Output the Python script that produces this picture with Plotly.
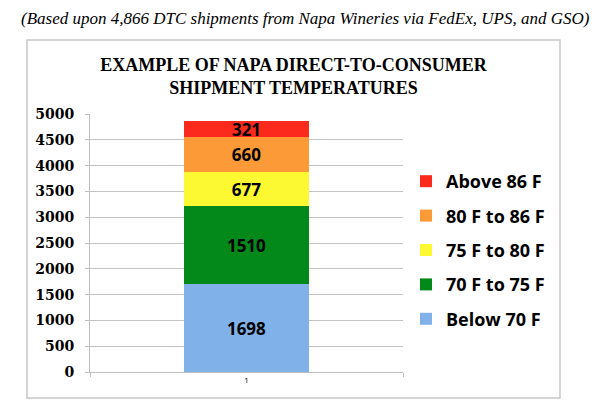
import plotly.graph_objects as go

categories = ["1"]
series_names = ["Below 70 F", "70 F to 75 F", "75 F to 80 F", "80 F to 86 F", "Above 86 F"]
series_values = [[1698], [1510], [677], [660], [321]]
series_colors = ["#80b1e9", "#02891a", "#fcf832", "#fd9a38", "#fc2a1c"]

title_text = "EXAMPLE OF NAPA DIRECT-TO-CONSUMER<br>SHIPMENT TEMPERATURES"
subtitle_text = "(Based upon 4,866 DTC shipments from Napa Wineries via FedEx, UPS, and GSO)"

fig = go.Figure()
n = len(series_names)
for i, (name, vals, col) in enumerate(zip(series_names, series_values, series_colors)):
    fig.add_trace(go.Bar(
        x=categories, y=vals, name=name, legendgroup=name,
        legendrank=n - i,
        marker=dict(color=col, line=dict(width=0)),
        text=[str(v) for v in vals], textposition="inside",
        insidetextanchor="middle",
        textfont=dict(family="Open Sans", size=17, color="black", weight="bold"),
        hoverinfo="skip",
    ))

W, H = 600, 414
L, R, T, B = 90, 197, 114, 42
pw, ph = W - L - R, H - T - B

def px_x(x):
    return (x - L) / pw

def px_y(y):
    return (H - B - y) / ph

fig.update_layout(
    width=W, height=H,
    margin=dict(l=L, r=R, t=T, b=B),
    paper_bgcolor="white", plot_bgcolor="white",
    barmode="stack", bargap=0.6,
    showlegend=True,
    uniformtext=dict(mode="show", minsize=17),
    legend=dict(
        traceorder="grouped", tracegroupgap=8,
        font=dict(family="Open Sans", size=18, color="black", weight="bold"),
        x=px_x(406), xanchor="left", y=px_y(163), yanchor="top",
        bgcolor="rgba(0,0,0,0)",
    ),
    title=dict(
        text=title_text, x=px_x(293.5), xref="paper", xanchor="center",
        y=1 - 71 / H, yanchor="middle",
        font=dict(family="Liberation Serif", size=18, color="black", weight="bold"),
    ),
    xaxis=dict(
        showgrid=False, showline=True, linecolor="#bfbfbf", linewidth=1,
        ticks="outside", tickson="boundaries", ticklen=4, tickcolor="#bfbfbf",
        tickfont=dict(family="Open Sans", size=8, color="black"),
    ),
    yaxis=dict(
        range=[0, 5000], dtick=500, showgrid=True, gridcolor="#c4c4c4", gridwidth=1,
        showline=True, linecolor="#bfbfbf", linewidth=1,
        ticks="outside", ticklen=4, tickcolor="#bfbfbf", ticklabelstandoff=8,
        tickfont=dict(family="DejaVu Serif", size=14, color="black", weight="bold"),
        zeroline=False,
    ),
    shapes=[dict(
        type="rect", xref="paper", yref="paper",
        x0=px_x(27), x1=px_x(560), y0=px_y(398), y1=px_y(40),
        line=dict(color="#c8c8c8", width=1.5), layer="below",
    )],
    annotations=[dict(
        text=subtitle_text, xref="paper", yref="paper",
        x=px_x(305), y=px_y(18), xanchor="center", yanchor="middle",
        showarrow=False,
        font=dict(family="Liberation Serif", size=17, color="black", style="italic"),
    )],
)

fig.write_html("out.html")
